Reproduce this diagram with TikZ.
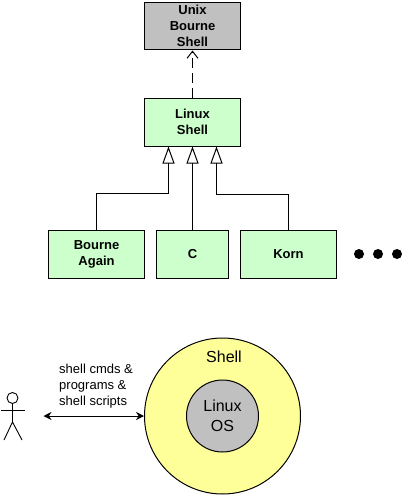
\documentclass[tikz,border=0pt]{standalone}
\usepackage{fontspec}
\setmainfont{Liberation Sans}
\usetikzlibrary{arrows.meta,calc}
\definecolor{boxgreen}{HTML}{CCFFCC}
\definecolor{boxgray}{HTML}{C0C0C0}
\definecolor{ringyellow}{HTML}{FFFF99}
\begin{document}
\begin{tikzpicture}[x=1pt,y=-1pt,
  box/.style={draw=black,line width=1pt,inner sep=0pt,align=center,
    font=\fontsize{13}{16}\selectfont\bfseries,minimum height=47.5pt},
  wide/.style={box,minimum width=96pt},
  link/.style={draw=black,line width=1pt},
  inherit/.style={link,-{Triangle[open,length=17pt,width=12pt,line width=1pt]}},
  realizes/.style={link,dash pattern=on 10pt off 5pt,-{Straight Barb[length=7pt,width=11pt,line width=1pt]}},
  both/.style={link,{Stealth[length=8pt,width=8pt]}-{Stealth[length=8pt,width=8pt]}},
  limb/.style={draw=black,line width=0.9pt},
  bigtxt/.style={font=\fontsize{16}{19.5}\selectfont,align=center,inner sep=0pt},
  dot/.style={circle,fill=black,inner sep=0pt,minimum size=10pt}]
\useasboundingbox (0,0) rectangle (403,495);
\node[wide,fill=boxgray] (unix) at (192.5,26.25) {Unix\\Bourne\\Shell};
\node[wide,fill=boxgreen] (linux) at (192.5,122.25) {Linux\\Shell};
\node[wide,fill=boxgreen] (bourne) at (96.5,254.25) {\raisebox{-0.6pt}{Bourne}\\\raisebox{-0.6pt}{Again}};
\node[box,fill=boxgreen,minimum width=72pt] (c) at (192.5,254.25) {C};
\node[wide,fill=boxgreen] (korn) at (288.5,254.25) {Korn};
\node[dot] (d1) at (359,254) {};
\node[dot] (d2) at (378,254) {};
\node[dot] (d3) at (397,254) {};
\draw[realizes] (linux.north) -- (unix.south);
\coordinate (la) at ($(linux.south)+(-24,0)$);
\coordinate (lc) at ($(linux.south)+(24,0)$);
\coordinate (ba) at (96.5,193.5);
\coordinate (bb) at (168.5,193.5);
\coordinate (ka) at (288.5,194.5);
\coordinate (kb) at (216.5,194.5);
\draw[inherit] (bourne.north) -- (ba) -- (bb) -- (la);
\draw[inherit] (c.north) -- (linux.south);
\draw[inherit] (korn.north) -- (ka) -- (kb) -- (lc);
\node[circle,draw=black,line width=1pt,fill=ringyellow,inner sep=0pt,minimum size=156pt] (shell) at (222.5,416) {};
\node[circle,draw=black,line width=1pt,fill=boxgray,inner sep=0pt,minimum size=72pt,bigtxt] (os) at (222.5,416) {Linux\\OS};
\node[bigtxt] (shelllabel) at (224,357) {Shell};
\node[align=left,inner sep=0pt,font=\fontsize{13}{16}\selectfont,anchor=west] (lbl) at (59,386.5) {shell cmds \&\\programs \&\\shell scripts};
\coordinate (left) at (43.5,416);
\draw[both] (left) -- (shell.west);
\node[circle,draw=black,line width=0.9pt,inner sep=0pt,minimum size=11pt] (head) at (12.5,398) {};
\coordinate (hip) at (12.5,422);
\draw[limb] (head.south) -- (hip);
\draw[limb] (1,410) -- (25,410);
\draw[limb] (4,440) -- (hip) -- (22,440);
\end{tikzpicture}
\end{document}
